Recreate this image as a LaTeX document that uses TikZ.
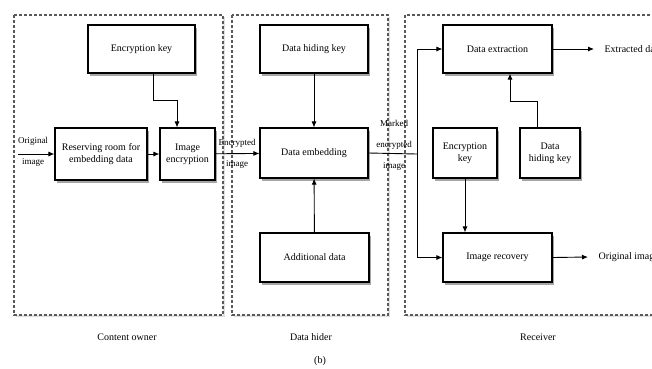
\documentclass[tikz,border=0pt]{standalone}
\usepackage{fontspec}
\setmainfont{Liberation Serif}
\usetikzlibrary{arrows.meta,shadows}
\begin{document}
\begin{tikzpicture}[x=1pt,y=-1pt,
  blk/.style={draw=black,line width=1.1pt,fill=white,inner sep=0pt,
    drop shadow={shadow xshift=2pt,shadow yshift=-3pt,opacity=0.35,fill=black},
    align=center,font=\fontsize{10}{12}\selectfont},
  grp/.style={draw=black!65,fill=white,line width=1.3pt,dash pattern=on 3pt off 2pt,
    drop shadow={shadow xshift=1.5pt,shadow yshift=-2pt,opacity=0.12,fill=black}},
  lbl/.style={font=\fontsize{10}{12}\selectfont},
  sml/.style={font=\fontsize{9}{21}\selectfont,align=center,inner sep=0pt},
  arr/.style={-{Latex[length=6pt,width=5pt]},line width=0.9pt},
  ln/.style={line width=0.9pt}]
\useasboundingbox (0,0) rectangle (652,368);
\clip (0,0) rectangle (652,368);
% groups
\path[grp] (14,15) rectangle (223,315);
\path[grp] (232,15) rectangle (388,315);
\path[grp] (405,15) rectangle (700,315);
\node[lbl] (gco) at (127,337) {Content owner};
\node[lbl] (gdh) at (311,337) {Data hider};
\node[lbl] (grc) at (538,337) {Receiver};
\node[lbl] (gb) at (320,361) {(b)};
% blocks
\node[blk,minimum width=107pt,minimum height=48pt] (ek1) at (141.5,49) {Encryption key};
\node[blk,minimum width=92pt,minimum height=52pt] (rr) at (101,154) {Reserving room for\\embedding data};
\node[blk,minimum width=55pt,minimum height=52pt] (ie) at (187.5,154) {Image\\encryption};
\node[blk,minimum width=108pt,minimum height=48pt] (dhk) at (314,49) {Data hiding key};
\node[blk,minimum width=108pt,minimum height=50pt] (de) at (314,153) {Data embedding};
\node[blk,minimum width=109pt,minimum height=49pt] (ad) at (314.5,257.5) {Additional data};
\node[blk,minimum width=109pt,minimum height=48pt] (dx) at (497.5,49) {Data extraction};
\node[blk,minimum width=64pt,minimum height=50pt] (ek2) at (465,153) {Encryption\\key};
\node[blk,minimum width=60pt,minimum height=50pt] (dhk2) at (550,153) {Data\\hiding key};
\node[blk,minimum width=109pt,minimum height=49pt] (ir) at (497.5,257.5) {Image recovery};
% free ends / labels
\coordinate (oin) at (18,154);
\node[sml] (oimg) at (33,152) {Original\\image};
\node[sml] (eimg) at (237,154) {Encrypted\\image};
\node[sml] (mimg) at (394,145) {Marked\\encrypted\\image};
\coordinate (split) at (417,154);
\coordinate (xend) at (594,49);
\node[lbl,anchor=west] (xd) at (601,49) {Extracted data};
\coordinate (oend) at (588,257);
\node[lbl,anchor=west] (od) at (595,257) {Original image};
% connectors
\draw[arr] (oin) -- (rr.west);
\draw[arr] (rr) -- (ie);
\draw[arr] (ek1.south -| 153,0) -- (153,100) -| (ie.north -| 177,0);
\draw[arr] (ie) -- (de);
\draw[arr] (dhk) -- (de);
\draw[arr] (ad) -- (de);
\draw[ln] (de.east) -- (split);
\draw[arr] (split) |- (dx.west);
\draw[arr] (split) |- (ir.west);
\draw[arr] (dx.east) -- (xend);
\draw[arr] (dhk2.north -| 537,0) -- (537,101) -| (dx.south -| 510,0);
\draw[arr] (ek2.south) -- (ir.north -| ek2.south);
\draw[arr] (ir.east) -- (oend);
\end{tikzpicture}
\end{document}
